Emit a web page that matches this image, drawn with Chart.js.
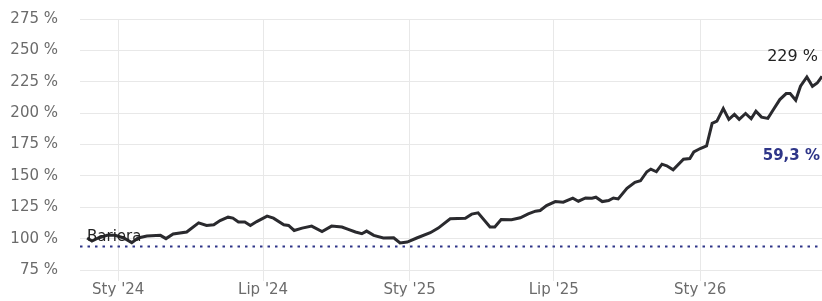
<!DOCTYPE html>
<html>
<head>
<meta charset="utf-8">
<script src="https://cdn.jsdelivr.net/npm/chart.js@4"></script>
<style>
html,body{margin:0;padding:0;background:#fff;}
#wrap{width:822px;height:301px;position:relative;}
canvas{display:block;}
</style>
</head>
<body>
<div id="wrap"><canvas id="c" width="822" height="301"></canvas></div>
<script>
const dates = ["2023-11-23","2023-11-29","2023-12-07","2023-12-18","2023-12-28","2024-01-08","2024-01-18","2024-01-26","2024-02-06","2024-02-23",
"2024-03-01","2024-03-10","2024-03-27","2024-04-11","2024-04-21","2024-04-30","2024-05-08","2024-05-18","2024-05-24","2024-05-31",
"2024-06-08","2024-06-15","2024-06-23","2024-07-06","2024-07-14","2024-07-27","2024-08-02","2024-08-09","2024-08-19","2024-08-31",
"2024-09-13","2024-09-25","2024-10-08","2024-10-16","2024-10-25","2024-11-02","2024-11-08","2024-11-17","2024-11-29","2024-12-12",
"2024-12-20","2024-12-29","2025-01-10","2025-01-27","2025-02-06","2025-02-21","2025-03-12","2025-03-20","2025-03-28","2025-04-12",
"2025-04-18","2025-04-26","2025-05-09","2025-05-20","2025-05-30","2025-06-08","2025-06-14","2025-06-22","2025-07-03","2025-07-13",
"2025-07-25","2025-08-01","2025-08-10","2025-08-18","2025-08-23","2025-08-31","2025-09-08","2025-09-14","2025-09-20","2025-10-01",
"2025-10-11","2025-10-18","2025-10-26","2025-10-31","2025-11-07","2025-11-14","2025-11-20","2025-11-28","2025-12-11","2025-12-19",
"2025-12-24","2026-01-01","2026-01-09","2026-01-16","2026-01-22","2026-01-30","2026-02-06","2026-02-13","2026-02-19","2026-02-27",
"2026-03-06","2026-03-12","2026-03-19","2026-03-27","2026-04-03","2026-04-11","2026-04-19","2026-04-24","2026-05-01","2026-05-07",
"2026-05-15","2026-05-22","2026-05-28","2026-06-03"];
const values = [100.5,98.1,100.5,102.6,102.6,100.5,96.8,100.5,102.0,102.6,
100.0,103.7,105.3,112.6,110.5,111.0,114.4,117.1,116.4,113.2,
113.2,110.5,113.6,117.9,116.3,111.0,110.5,106.5,108.4,110.0,
105.7,110.0,109.2,107.3,105.3,103.9,106.0,102.6,100.5,100.7,
96.5,97.3,100.5,104.7,108.4,115.8,116.3,119.5,120.5,109.2,
109.2,115.2,115.0,116.6,119.7,121.9,122.4,126.3,129.5,129.0,
132.2,129.8,132.4,132.2,133.0,129.5,130.3,132.4,131.6,140.1,
144.9,146.1,153.3,155.4,153.3,159.3,158.0,154.8,163.3,163.8,
169.1,171.8,173.8,191.8,193.6,203.6,195.0,199.0,195.0,199.7,
195.5,201.6,196.8,195.8,202.9,210.8,215.6,215.6,210.3,221.4,
228.8,221.4,224.0,229.3];
const tickDates = ["2024-01-01","2024-07-01","2025-01-01","2025-07-01","2026-01-01"];
const tickLabels = ["Sty '24","Lip '24","Sty '25","Lip '25","Sty '26"];
const xRange = ["2023-11-14","2026-06-03"];
const yTicks = [75,100,125,150,175,200,225,250,275];
const barrier = 93.7;
const barrierLabel = "Bariera";
const lastLabel = "229 %";
const distLabel = "59,3 %";

const DAY = 86400000;
const epoch = Date.parse("2024-01-01");
const toDay = s => (Date.parse(s) - epoch) / DAY;
const tickDays = tickDates.map(toDay);
const pts = dates.map((d, i) => ({x: toDay(d), y: values[i]}));
const xMin = toDay(xRange[0]), xMax = toDay(xRange[1]);

const FONT = "'DejaVu Sans', sans-serif";

const annot = {
  id: 'annot',
  afterDatasetsDraw(chart) {
    const {ctx, chartArea, scales} = chart;
    const ys = scales.y;
    ctx.save();
    const by = ys.getPixelForValue(barrier);
    ctx.font = "15px " + FONT;
    ctx.fillStyle = "#222";
    ctx.textAlign = "left";
    ctx.textBaseline = "alphabetic";
    ctx.fillText(barrierLabel, chartArea.left + 7, by - 6);
    const last = pts[pts.length - 1];
    const ly = ys.getPixelForValue(last.y);
    ctx.font = "16px " + FONT;
    ctx.textAlign = "right";
    ctx.textBaseline = "middle";
    ctx.fillStyle = "#222";
    ctx.fillText(lastLabel, chartArea.right - 4, ly - 20);
    ctx.font = "bold 15px " + FONT;
    ctx.fillStyle = "#2e3588";
    ctx.fillText(distLabel, chartArea.right - 2, ly + 80);
    ctx.restore();
  }
};

new Chart(document.getElementById('c'), {
  type: 'line',
  data: {
    datasets: [
      {
        data: pts,
        borderColor: '#2a2a2e',
        borderWidth: 3,
        pointRadius: 0,
        tension: 0,
        fill: false,
        order: 1
      },
      {
        data: [{x: xMin, y: barrier}, {x: xMax, y: barrier}],
        borderColor: '#2e3588',
        borderWidth: 2,
        borderDash: [2.5, 5],
        pointRadius: 0,
        fill: false,
        order: 2
      }
    ]
  },
  options: {
    responsive: false,
    animation: false,
    devicePixelRatio: 1,
    layout: {padding: {top: 0, right: 0, left: 0, bottom: -1.5}},
    plugins: {legend: {display: false}, tooltip: {enabled: false}},
    scales: {
      x: {
        type: 'linear',
        min: xMin,
        max: xMax,
        afterBuildTicks(ax) { ax.ticks = tickDays.map(v => ({value: v})); },
        ticks: {
          callback: (v) => { const i = tickDays.indexOf(v); return i >= 0 ? tickLabels[i] : ''; },
          color: '#6b6b6b',
          font: {family: FONT, size: 15},
          padding: 0,
          maxRotation: 0,
          autoSkip: false
        },
        grid: {color: '#e8e8e8', lineWidth: 1, tickLength: 11, drawTicks: true},
        border: {display: false},
        afterFit(ax) { ax.height = 26.5; }
      },
      y: {
        min: 75,
        max: 275,
        afterBuildTicks(ax) { ax.ticks = yTicks.map(v => ({value: v})); },
        ticks: {
          callback: v => v + ' %',
          color: '#6b6b6b',
          font: {family: FONT, size: 15},
          padding: 22
        },
        grid: {color: '#e8e8e8', lineWidth: 1, drawTicks: false},
        border: {display: false},
        afterFit(ax) { ax.width = 80; ax.paddingTop = 19; }
      }
    }
  },
  plugins: [annot]
});
</script>
</body>
</html>
